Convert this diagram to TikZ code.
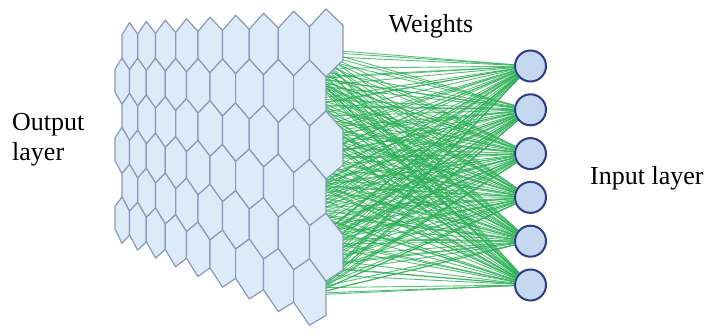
\documentclass[tikz,border=0pt]{standalone}
\usepackage{fontspec}
\setmainfont{Liberation Serif}
\newfontfamily\lblfont{Liberation Serif}
\definecolor{hexfill}{RGB}{221,234,248}
\definecolor{hexdraw}{RGB}{138,152,188}
\definecolor{nodefill}{RGB}{196,216,240}
\definecolor{nodedraw}{RGB}{46,60,134}
\definecolor{wgreen}{RGB}{44,176,86}
\begin{document}
\begin{tikzpicture}[x=1pt,y=-1pt,
  declare function={
    hx(\u)=115+13.44*\u+1.111*\u*\u;
    hy(\u,\v)=(23-0.07*(hx(\u)-125))+(\v+2/3)*(35+0.08*(hx(\u)-125));
  },
  hexcell/.style={fill=hexfill,draw=hexdraw,line width=1.2pt,line join=round},
  neuron/.style={circle,fill=nodefill,draw=nodedraw,line width=2pt,minimum size=31pt,inner sep=0pt},
  wline/.style={draw=wgreen,line width=0.9pt,opacity=0.8},
  lbl/.style={font=\lblfont\fontsize{26}{30}\selectfont,inner sep=0pt}]
\useasboundingbox (0,0) rectangle (710,336);
% input neurons
\foreach \j in {1,...,6}{
  \node[neuron] (n\j) at (530.5,{66+43.8*(\j-1)}) {};
}
% weight sources (behind the hexagon sheet)
\foreach \k in {1,...,36}{
  \coordinate (s\k) at ({312+6*cos(\k*53)},{45+(\k-1)*7.25+4*sin(\k*97)});
}
\foreach \k in {1,...,36}{
  \foreach \j in {1,...,6}{
    \draw[wline] (s\k) -- (n\j);
  }
}
% hexagon sheet (output layer)
\foreach \r in {0,...,5}{
  \pgfmathsetmacro{\off}{1-0.5*mod(\r,2)}
  \foreach \c in {0,...,8}{
    \pgfmathsetmacro{\uc}{\c+\off}
    \pgfmathsetmacro{\ul}{\uc-0.5}
    \pgfmathsetmacro{\ur}{\uc+0.5}
    \draw[hexcell]
      ({hx(\uc)},{hy(\uc,\r-2/3)}) --
      ({hx(\ur)},{hy(\ur,\r-1/3)}) --
      ({hx(\ur)},{hy(\ur,\r+1/3)}) --
      ({hx(\uc)},{hy(\uc,\r+2/3)}) --
      ({hx(\ul)},{hy(\ul,\r+1/3)}) --
      ({hx(\ul)},{hy(\ul,\r-1/3)}) -- cycle;
  }
}
% labels
\node[lbl,anchor=base] (weights) at (431,33) {Weights};
\node[lbl,anchor=base west] (outlbl) at (12,131) {Output};
\node[lbl,anchor=base west] (outlbl2) at (12,161) {layer};
\node[lbl,anchor=base west] (inlbl) at (590,185) {Input layer};
\end{tikzpicture}
\end{document}
